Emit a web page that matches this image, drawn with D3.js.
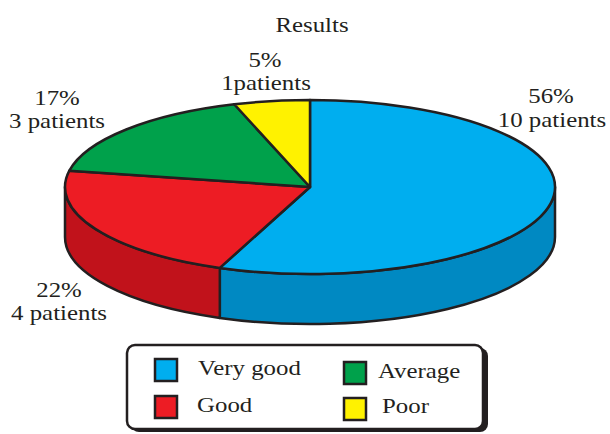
<!DOCTYPE html>
<html><head><meta charset="utf-8">
<script src="https://cdn.jsdelivr.net/npm/d3@7"></script>
<style>body{margin:0;background:#fff}svg{display:block}text{font-family:"Liberation Serif","Times New Roman",serif;fill:#231f20}</style>
</head><body>
<svg id="c" width="610" height="434"></svg>
<script>
const categories = ["Very good", "Good", "Average", "Poor"];
const patients = [10, 4, 3, 1];
const percents = [56, 22, 17, 5];
const percentLabels = ["56%", "22%", "17%", "5%"];
const countLabels = ["10 patients", "4 patients", "3 patients", "1patients"];
const topColors = ["#00aeef", "#ed1c24", "#00a14b", "#fff200"];
const sideColors = ["#0089c2", "#c1121b", "#007a38", "#c8bd00"];

const svg = d3.select("#c");
const cx = 310, cy = 187, rx = 245, ry = 87, depth = 50;
const SX = 1.13;
const P = (a, dy = 0) => [cx + rx * Math.sin(a), cy - ry * Math.cos(a) + dy];
const color = d3.scaleOrdinal().domain(categories).range(topColors);
const side = d3.scaleOrdinal().domain(categories).range(sideColors);

const arcs = d3.pie().sort(null).value(d => d.v)(categories.map((c, i) => ({c, v: percents[i], n: patients[i], i})));

function label(x, y, txt, size, anchor) {
  svg.append("text")
    .attr("transform", `translate(${x},${y}) scale(${SX},1)`)
    .attr("text-anchor", anchor || "middle").attr("font-size", size).text(txt);
}

label(312, 32, "Results", 22);

const g = svg.append("g").attr("stroke", "#231f20").attr("stroke-width", 2.5).attr("stroke-linejoin", "round");

// side walls
arcs.forEach(d => {
  const b0 = Math.max(d.startAngle, Math.PI / 2), b1 = Math.min(d.endAngle, 3 * Math.PI / 2);
  if (b1 <= b0) return;
  const p0 = P(b0), p1 = P(b1), q1 = P(b1, depth), q0 = P(b0, depth);
  const path = `M${p0}A${rx},${ry} 0 0 1 ${p1}L${q1}A${rx},${ry} 0 0 0 ${q0}Z`;
  g.append("path").attr("d", path).attr("fill", side(d.data.c));
});
// top faces
arcs.forEach(d => {
  const p0 = P(d.startAngle), p1 = P(d.endAngle);
  const large = d.endAngle - d.startAngle > Math.PI ? 1 : 0;
  g.append("path").attr("d", `M${cx},${cy}L${p0}A${rx},${ry} 0 ${large} 1 ${p1}Z`).attr("fill", color(d.data.c));
});

// labels
const labelPos = [[551, 103, 552, 127], [59, 297, 59, 320], [57, 105, 57, 128], [265, 67, 266, 90]];
arcs.forEach(d => {
  const i = d.data.i, p = labelPos[i];
  label(p[0], p[1], percentLabels[i], 22);
  label(p[2], p[3], countLabels[i], 22);
});

// legend
const lg = svg.append("g");
lg.append("rect").attr("x", 131).attr("y", 348).attr("width", 357).attr("height", 84).attr("rx", 8).attr("fill", "#231f20");
lg.append("rect").attr("x", 127).attr("y", 345).attr("width", 356).attr("height", 84).attr("rx", 8).attr("fill", "#fff").attr("stroke", "#231f20").attr("stroke-width", 2.5);
const legPos = [[155, 359, 198, 375], [155, 396, 197, 412], [344, 362, 378, 378], [344, 398, 382, 413]];
categories.forEach((c, i) => {
  const [sx, sy, tx, ty] = legPos[i];
  lg.append("rect").attr("x", sx).attr("y", sy).attr("width", 22).attr("height", 22).attr("fill", color(c)).attr("stroke", "#231f20").attr("stroke-width", 2.5);
  svg.append("text").attr("transform", `translate(${tx},${ty}) scale(${SX},1)`).attr("font-size", 22).text(c);
});
</script>
</body></html>
